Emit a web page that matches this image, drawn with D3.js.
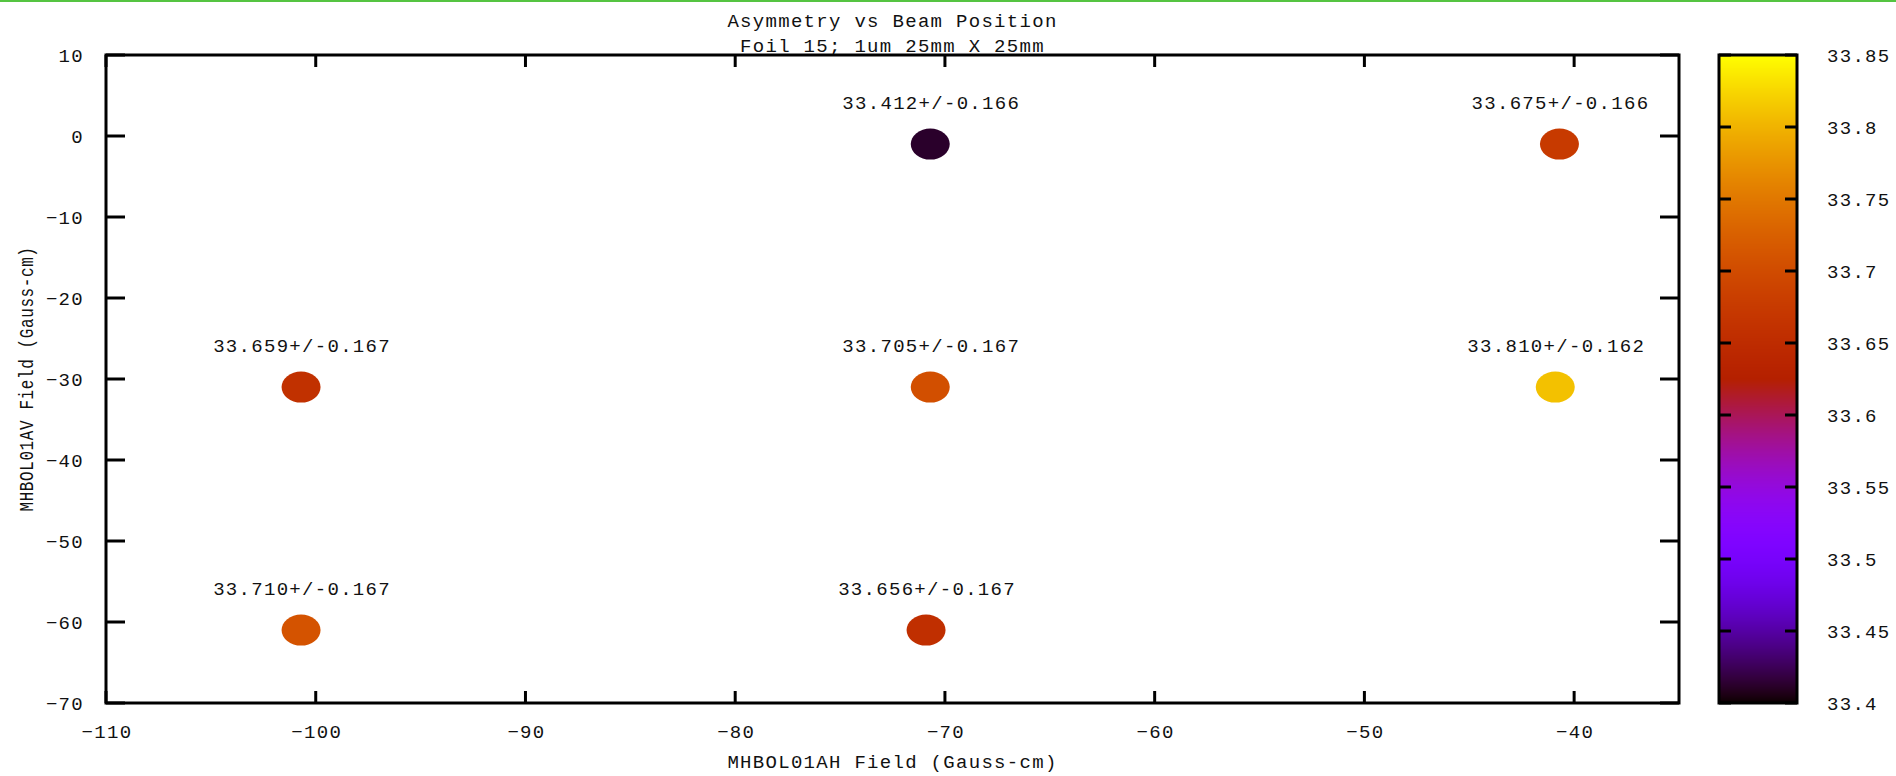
<!DOCTYPE html>
<html>
<head>
<meta charset="utf-8">
<script src="https://cdn.jsdelivr.net/npm/d3@7"></script>
<style>
  html, body { margin: 0; padding: 0; background: #fff; }
  svg { display: block; }
  text { font-family: "Liberation Mono", "DejaVu Sans Mono", monospace; font-size: 19px; fill: #111; letter-spacing: 1.3px; }
</style>
</head>
<body>
<svg id="chart" width="1896" height="776"></svg>
<script>
// Beam position scan: horizontal / vertical corrector field and measured asymmetry
const hField  = [-70.7, -40.7, -100.7, -70.7, -40.9, -100.7, -70.9];
const vField  = [-1.0, -1.0, -31.0, -31.0, -31.0, -61.0, -61.0];
const asym    = [33.412, 33.675, 33.659, 33.705, 33.810, 33.710, 33.656];
const asymErr = [0.166, 0.166, 0.167, 0.167, 0.162, 0.167, 0.167];

const xTicks  = [-110, -100, -90, -80, -70, -60, -50, -40];
const yTicks  = [10, 0, -10, -20, -30, -40, -50, -60, -70];
const cbTicks = [33.4, 33.45, 33.5, 33.55, 33.6, 33.65, 33.7, 33.75, 33.8, 33.85];

const titleLines = ["Asymmetry vs Beam Position", "Foil 15; 1um 25mm X 25mm"];
const xLabel = "MHBOL01AH Field (Gauss-cm)";
const yLabel = "MHBOL01AV Field (Gauss-cm)";

const svg = d3.select("#chart");

// plot frame
const L = 106, R = 1679, T = 55, B = 703;
const x = d3.scaleLinear().domain([-110, -35]).range([L, R]);
const y = d3.scaleLinear().domain([-70, 10]).range([B, T]);

// colour box
const cbL = 1719, cbR = 1797;
const cb = d3.scaleLinear().domain([33.4, 33.85]).range([B, T]);

// rgbformulae 7,5,15 : r = sqrt(t), g = t^3, b = sin(2*pi*t)
function palette(t) {
  t = Math.max(0, Math.min(1, t));
  const r = Math.sqrt(t), g = t * t * t, b = Math.max(0, Math.sin(2 * Math.PI * t));
  return d3.rgb(Math.round(r * 255), Math.round(g * 255), Math.round(b * 255)).toString();
}
const colour = d3.scaleSequential(palette).domain([33.4, 33.85]);

// thin green strip along the top edge
svg.append("rect").attr("x", 0).attr("y", 0).attr("width", 1896).attr("height", 2).attr("fill", "#55c441");

// title
svg.append("g").selectAll("text").data(titleLines).join("text")
  .attr("x", (L + R) / 2).attr("y", (d, i) => 27 + i * 24.5)
  .attr("text-anchor", "middle").text(d => d);

// axes: ticks on all four sides, pointing inward
const frame = svg.append("g");
const xTickLen = 12, yTickLen = 19;
frame.selectAll("line.xb").data(xTicks).join("line")
  .attr("x1", d => x(d)).attr("x2", d => x(d)).attr("y1", B).attr("y2", B - xTickLen)
  .attr("stroke", "#000").attr("stroke-width", 3);
frame.selectAll("line.xt").data(xTicks).join("line")
  .attr("x1", d => x(d)).attr("x2", d => x(d)).attr("y1", T).attr("y2", T + xTickLen)
  .attr("stroke", "#000").attr("stroke-width", 3);
frame.selectAll("line.yl").data(yTicks).join("line")
  .attr("x1", L).attr("x2", L + yTickLen).attr("y1", d => y(d)).attr("y2", d => y(d))
  .attr("stroke", "#000").attr("stroke-width", 3);
frame.selectAll("line.yr").data(yTicks).join("line")
  .attr("x1", R).attr("x2", R - yTickLen).attr("y1", d => y(d)).attr("y2", d => y(d))
  .attr("stroke", "#000").attr("stroke-width", 3);
frame.append("rect").attr("x", L).attr("y", T).attr("width", R - L).attr("height", B - T)
  .attr("fill", "none").attr("stroke", "#000").attr("stroke-width", 3);

// tick labels
svg.append("g").selectAll("text").data(xTicks).join("text")
  .attr("x", d => x(d) + 1).attr("y", B + 35).attr("text-anchor", "middle")
  .text(d => d3.format("")(d).replace("-", "\u2212"));
svg.append("g").selectAll("text").data(yTicks).join("text")
  .attr("x", 84).attr("y", d => y(d) + 7).attr("text-anchor", "end")
  .text(d => String(d).replace("-", "\u2212"));

// axis titles
svg.append("text").attr("x", (L + R) / 2).attr("y", 768).attr("text-anchor", "middle").text(xLabel);
svg.append("text")
  .attr("transform", `translate(33, ${(T + B) / 2}) scale(1.3, 1) rotate(-90)`)
  .attr("text-anchor", "middle").style("font-size", "16px").style("letter-spacing", "0.6px")
  .text(yLabel);

// colour box gradient, one row per pixel
const rows = d3.range(T, B);
svg.append("g").selectAll("rect").data(rows).join("rect")
  .attr("x", cbL).attr("width", cbR - cbL)
  .attr("y", d => d).attr("height", 1.2)
  .attr("fill", d => colour(cb.invert(d + 0.5)));
const cbg = svg.append("g");
cbg.selectAll("line.l").data(cbTicks).join("line")
  .attr("x1", cbL).attr("x2", cbL + 12).attr("y1", d => cb(d)).attr("y2", d => cb(d))
  .attr("stroke", "#000").attr("stroke-width", 3);
cbg.selectAll("line.r").data(cbTicks).join("line")
  .attr("x1", cbR).attr("x2", cbR - 12).attr("y1", d => cb(d)).attr("y2", d => cb(d))
  .attr("stroke", "#000").attr("stroke-width", 3);
cbg.append("rect").attr("x", cbL).attr("y", T).attr("width", cbR - cbL).attr("height", B - T)
  .attr("fill", "none").attr("stroke", "#000").attr("stroke-width", 3);
cbg.selectAll("text").data(cbTicks).join("text")
  .attr("x", 1827).attr("y", d => cb(d) + 7)
  .text(d => d3.format("")(+d.toFixed(2)));

// measured points, coloured by asymmetry, with value labels above
const pts = asym.map((a, i) => ({ h: hField[i], v: vField[i], a, e: asymErr[i] }));
const pg = svg.append("g");
pg.selectAll("ellipse").data(pts).join("ellipse")
  .attr("cx", d => x(d.h)).attr("cy", d => y(d.v))
  .attr("rx", 19.5).attr("ry", 15.5)
  .attr("fill", d => colour(d.a));
pg.selectAll("text").data(pts).join("text")
  .attr("x", d => x(d.h) + 1).attr("y", d => y(d.v) - 35)
  .attr("text-anchor", "middle")
  .text(d => `${d.a.toFixed(3)}+/-${d.e.toFixed(3)}`);
</script>
</body>
</html>
